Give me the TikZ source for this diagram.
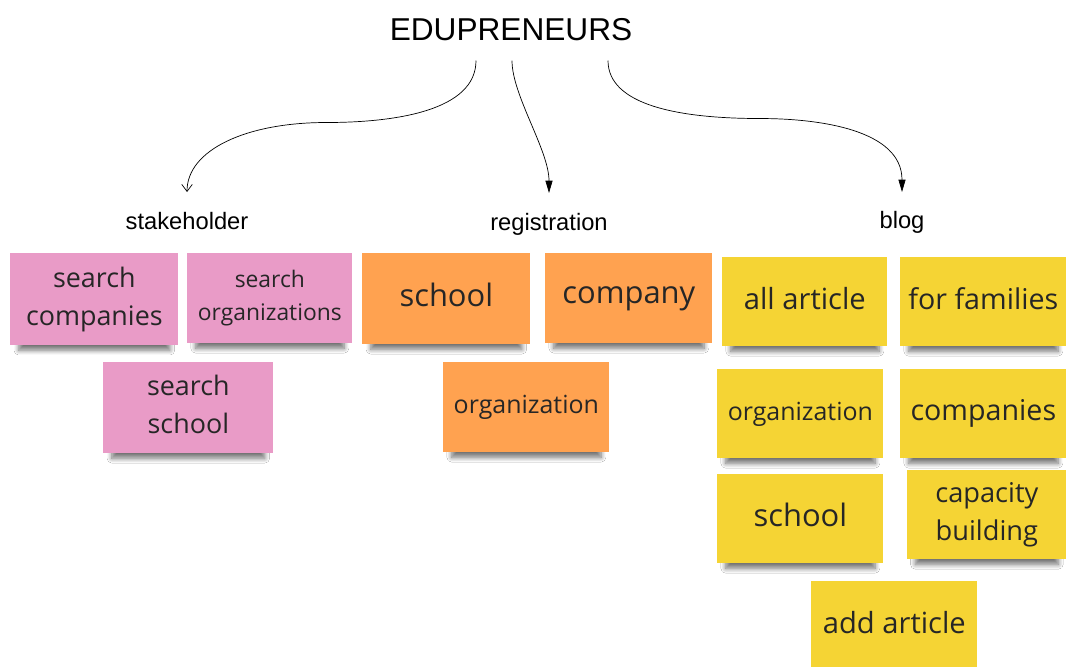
\documentclass[tikz,border=0pt]{standalone}
\usepackage{fontspec}
\setmainfont{Open Sans}
\newfontfamily\labelfont{Liberation Sans}
\usetikzlibrary{arrows.meta,calc,shadows.blur}
\definecolor{notepink}{RGB}{233,155,199}
\definecolor{noteorange}{RGB}{255,162,80}
\definecolor{noteyellow}{RGB}{245,212,52}
\definecolor{notetext}{RGB}{38,38,38}
\begin{document}
\begin{tikzpicture}[x=0.02cm,y=-0.02cm,
    note/.style={anchor=north west,inner sep=0pt,align=center,text=notetext,
      execute at end node={\vphantom{g}},
      blur shadow={shadow xshift=0pt,shadow yshift=-6pt,shadow scale=0.9,
        shadow blur radius=3pt,shadow blur steps=8,shadow opacity=55}},
    notesize/.style 2 args={minimum width=#1*0.02cm,minimum height=#2*0.02cm},
    fs/.style 2 args={font=\fontsize{#1}{#2}\selectfont},
    pink/.style={note,fill=notepink},
    orange/.style={note,fill=noteorange},
    yellow/.style={note,fill=noteyellow},
    topic/.style={anchor=north,inner sep=0pt,font=\labelfont\fontsize{13.5}{16}\selectfont},
    link/.style={thin}]
  \useasboundingbox[fill=white] (0,0) rectangle (1068,666);

  \node[anchor=base,font=\labelfont\fontsize{18}{22}\selectfont] (title) at (511,40) {EDUPRENEURS};

  \node[topic] (stake) at (187,212) {stakeholder};
  \node[topic] (regis) at (549,213) {registration};
  \node[topic] (blog) at (902,211) {blog};

  % stakeholder
  \node[pink,notesize={168}{92},fs={15.3}{21.5}] (scomp) at (10,253) {search\\companies};
  \node[pink,notesize={165}{90},fs={13}{18.7}] (sorg) at (187,253) {search\\organizations};
  \node[pink,notesize={170}{91},fs={15.3}{21.5}] (sschool) at (103,362) {search\\school};

  % registration
  \node[orange,notesize={168}{91},fs={17.6}{21}] (rschool) at (362,253) {school};
  \node[orange,notesize={167}{90},fs={17.6}{21}] (rcomp) at (545,253) {company};
  \node[orange,notesize={166}{90},fs={14.2}{18}] (rorg) at (443,362) {organization};

  % blog
  \node[yellow,notesize={165}{89},fs={16.6}{20}] (ball) at (722,257) {all article};
  \node[yellow,notesize={166}{89},fs={16.3}{20}] (bfam) at (900,257) {for families};
  \node[yellow,notesize={166}{89},fs={14.2}{18}] (borg) at (717,369) {organization};
  \node[yellow,notesize={166}{89},fs={16.3}{20}] (bcomp) at (900,369) {companies};
  \node[yellow,notesize={166}{89},fs={17.6}{21}] (bschool) at (717,474) {school};
  \node[yellow,notesize={159}{89},fs={15.5}{21.5}] (bcap) at (907,470) {capacity\\building};
  \node[yellow,notesize={166}{89},fs={16.6}{20}] (badd) at (811,581) {add article};

  % links from the title down to the three topics
  \draw[link,-{Straight Barb[length=4pt,width=6pt]}] ($(title.south)+(-35,14)$)
    .. controls +(0,50) and +(70,0) .. ++(-150,62)
    .. controls +(-80,0) and +(0,-42) .. ($(stake.north)+(0,-20)$);
  \draw[link,-{Stealth[length=7pt,width=4pt,inset=0pt]}] ($(title.south)+(1,14)$)
    .. controls +(0,35) and +(0,-43) .. ($(regis.north)+(0,-20)$);
  \draw[link,-{Stealth[length=7pt,width=4pt,inset=0pt]}] ($(title.south)+(97,14)$)
    .. controls +(0,45) and +(-80,0) .. ++(152,58)
    .. controls +(60,0) and +(0,-62) .. ($(blog.north)+(0,-19)$);
\end{tikzpicture}
\end{document}
